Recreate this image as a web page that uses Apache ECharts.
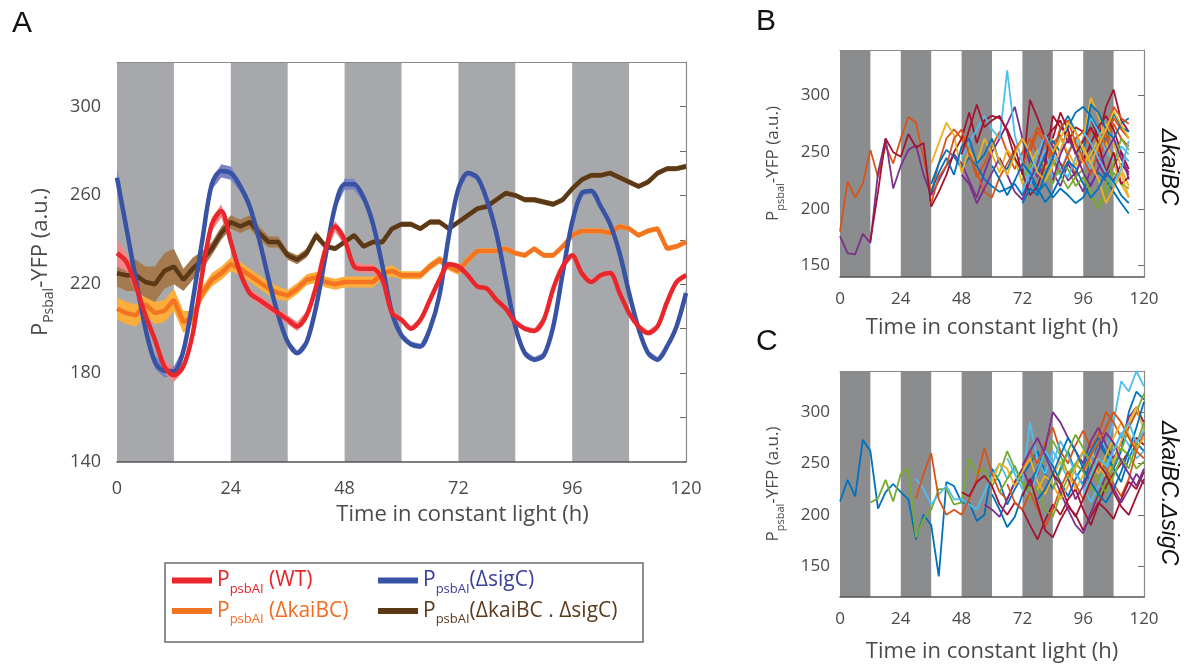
<!DOCTYPE html>
<html>
<head>
<meta charset="utf-8">
<script src="https://cdn.jsdelivr.net/npm/echarts@6/dist/echarts.min.js"></script>
<style>
html, body { margin: 0; padding: 0; background: #fff; }
#chart { width: 1185px; height: 668px; }
</style>
</head>
<body>
<div id="chart"></div>
<script>
// ---- panel A: population means (every 2 h) ----
var hoursA = [0,2,4,6,8,10,12,14,16,18,20,22,24,26,28,30,32,34,36,38,40,42,44,46,48,50,52,54,56,58,
    60,62,64,66,68,70,72,74,76,78,80,82,84,86,88,90,92,94,96,98,100,102,104,106,108,110,112,114,116,118,120];

var wtMean = [234,230,219,206,195,183,179,183,198,225,247,253,239,225,216,213,210,207,204,201,
    206,219,236,246,240,228,227,227,222,207,204,200,204,213,222,229,228,224,219,218,
    213,209,203,200,199,204,218,228,233,225,221,224,225,216,207,201,198,201,212,221,224];
var wtErr = [6,4,3,3,2,3,3,2,1.5,1.5,3,3,2,1.5,2,2,2,2,2,2,2,1.5,2.5,2.5,2.5,2,2,2,2,1.5,
    1.2,1.2,1.2,1.2,1.2,1.2,1.2,1.2,1.2,1.2,1.2,1.2,1.2,1.2,1.2,1.2,1.2,1.2,1.2,1.2,
    1.2,1.2,1.2,1.2,1.2,1.2,1.2,1.2,1.2,1.2,1.2];

var sigCMean = [268,245,222,200,185,181,181,190,213,240,265,271,270,264,255,240,222,206,194,189,
    194,210,233,255,265,265,259,247,228,207,197,193,192,200,215,242,263,270,268,258,
    243,222,201,189,186,188,201,225,248,261,262,255,247,234,216,200,189,186,192,201,216];
var sigCErr = [4,3,2,2,3,3,2,1.2,1.2,1.5,2.5,3,3,2.5,2,1.2,1.2,1.2,1.2,1.2,1.2,1.2,1.2,1.5,2.5,2.5,2,1.5,1.2,1.2,
    1.2,1.2,1.2,1.2,1.2,1.2,1.2,1.2,1.2,1.2,1.2,1.2,1.2,1.2,1.2,1.2,1.2,1.2,1.2,1.2,
    1.2,1.2,1.2,1.2,1.2,1.2,1.2,1.2,1.2,1.2,1.2];

var kaiMean = [209,207,206,211,207,208,213,203,205,216,222,225,229,227,224,221,218,216,215,218,
    222,223,221,220,221,221,221,221,225,226,224,224,224,228,231,228,226,231,235,235,
    235,236,234,233,236,233,233,237,242,244,244,244,243,246,245,242,244,245,236,237,239];
var kaiErr = [5,5,5,5,5,5,5,5,3,3,3,3,3,3,3,3,3,3,2.5,2.5,2.5,2.5,2.5,2.5,2.5,2.5,2.5,2.5,2.5,2.5,
    1.8,1.8,1.8,1.8,1.8,1.8,1.8,1.8,1.2,1.2,1.2,1.2,1.2,1.2,1.2,1.2,1.2,1.2,1.2,1.2,
    1.2,1.2,1.2,1.2,1.2,1.2,1.2,1.2,1.2,1.2,1.2];

var kaiSigMean = [225,224,224,221,220,226,228,222,227,231,236,243,248,246,248,243,239,239,233,231,
    234,242,237,236,239,242,237,239,239,245,247,247,245,248,248,245,248,251,254,255,
    258,261,260,258,258,257,256,258,263,267,269,269,270,268,266,264,266,270,272,272,273];
var kaiSigErr = [6,7,7,7,8,8,8,5,5,4,3,3,3,3,3,3,2.5,2.5,2,2,2,2,1.2,1.2,1.2,1.2,1.2,1.2,1.2,1.2,
    1.2,1.2,1.2,1.2,1.2,1.2,1.2,1.2,1.2,1.2,1.2,1.2,1.2,1.2,1.2,1.2,1.2,1.2,1.2,1.2,
    1.2,1.2,1.2,1.2,1.2,1.2,1.2,1.2,1.2,1.2,1.2];

var strainNames = ['WT', 'ΔsigC', 'ΔkaiBC', 'ΔkaiBC . ΔsigC'];
var legendSuffix = [' (WT)', '(ΔsigC)', ' (ΔkaiBC)', '(ΔkaiBC . ΔsigC)'];

// dark (subjective night) periods, hours
var darkPeriods = [[0, 12], [24, 36], [48, 60], [72, 84], [96, 108]];

var xTicks = [0, 24, 48, 72, 96, 120];
var yLabelsA = [140, 180, 220, 260, 300];
var yTicksA = [160, 180, 200, 220, 240, 260, 280, 300];
var yLabelsBC = [150, 200, 250, 300];

// ---- panels B and C: single-cell traces, every 3 h from start ----
var kaiStart = [0, 0, 12, 36, 36, 48, 72, 36, 36, 48, 48, 60, 72, 84, 72, 72, 84, 84, 96, 96, 60, 84];
var kaiColor = [1, 3, 6, 0, 2, 5, 4, 0, 1, 3, 6, 2, 5, 4, 0, 1, 6, 3, 2, 5, 0, 2];
var kaiTraces = [
    [180,224,210,222,252,228,256,240,262,281,276,245,214,240,262,270,262,250,228,240,255,268,250,235,250,262,248,235,258,265,245,230,252,270,262,255,275,262,255],
    [176,161,160,178,170,232,262,218,238,252,256,230,212,225,238,248,240,225,210,232,250,262,275,290,262,240,228,245,232,220,240,228,215,235,248,232,225,240,230],
    [172,215,262,250,246,266,254,258,202,215,230,250,262,285,258,278,282,280,270,255,230,296,280,262,270,278,258,272,268,280,262,290,305,278,268],
    [222,240,252,246,236,245,238,226,220,215,218,222,212,228,215,222,210,218,212,205,210,222,232,225,215,205,196],
    [240,258,276,265,232,252,240,262,248,232,252,244,222,238,252,236,244,262,250,238,262,298,282,258,240,222,210],
    [245,258,270,282,270,262,322,265,240,222,238,252,228,232,250,262,245,235,255,270,262,250,242],
    [225,238,245,230,222,240,235,220,228,215,200,212,232,222,218],
    [215,232,245,230,255,262,240,248,262,240,235,250,262,245,232,248,260,250,272,285,290,282,270,260,284,272,268],
    [205,228,238,262,270,248,232,215,210,228,240,252,262,250,268,258,245,232,248,262,268,255,242,262,280,270,262],
    [230,222,205,218,232,245,230,215,208,225,240,262,255,240,225,232,245,255,240,228,238,250,226],
    [248,270,292,272,278,282,268,245,232,212,220,240,282,272,265,250,242,258,272,282,270,250,235],
    [258,242,230,248,262,250,232,225,238,252,268,255,240,248,262,275,258,236,220],
    [215,232,248,265,250,235,228,245,262,280,268,250,242,255,248],
    [242,230,218,228,235,212,200,222,240,262,252],
    [205,218,212,230,245,270,282,268,250,292,285,270,262,275,280],
    [238,255,272,262,248,272,278,258,245,230,252,268,290,280,275],
    [262,285,270,248,260,272,258,232,250,222,228],
    [225,248,262,250,232,220,236,250,262,244,232],
    [255,240,226,205,218,232,210],
    [268,258,245,232,222,235,260],
    [238,226,212,225,240,232,218,206,214,228,242,236,222,210,218,232,224,212,205],
    [250,262,276,268,252,240,256,270,286,274,262]
];

var kaiSigStart = [0, 12, 30, 30, 48, 57, 60, 60, 63, 66, 66, 72, 72, 78, 78, 84, 84, 90, 96, 96];
var kaiSigColor = [0, 4, 5, 1, 6, 3, 2, 0, 4, 5, 1, 6, 3, 2, 0, 4, 6, 3, 1, 5];
var kaiSigTraces = [
    [213,234,218,273,262,206,222,230,222,215,176,200,190,140,232,228,212,212,194,200,245,232,210,225,238,250,262,240,225,245,262,240,230,252,270,258,245,262,300,320,312],
    [212,216,234,213,240,245,178,196,205,225,225,210,212,255,240,245,228,240,262,245,232,225,240,258,272,258,240,250,262,245,232,250,270,262,285,300,318],
    [235,225,210,220,228,215,215,210,205,222,238,250,235,245,232,290,252,240,262,250,235,248,260,252,275,265,290,330,320,340,325],
    [216,240,260,215,200,205,200,215,235,265,240,222,215,232,245,262,250,270,285,262,250,268,282,265,278,300,290,275,285,300,290],
    [222,218,232,238,228,210,200,212,205,190,176,195,210,200,215,225,205,190,210,228,240,250,262,275,268],
    [210,205,198,215,232,245,228,240,265,300,290,275,262,250,272,285,268,255,270,295,305,290],
    [232,250,245,228,242,255,232,220,238,252,240,225,238,262,250,235,252,272,290,305,282],
    [220,205,188,198,220,232,245,260,248,232,218,235,248,262,275,260,245,232,255,270,262],
    [222,235,248,230,215,228,205,198,220,236,250,242,228,215,232,248,265,258,245,252],
    [255,240,225,218,242,262,250,272,258,240,228,212,228,245,262,280,268,255,262],
    [230,212,205,222,205,188,205,226,242,230,215,232,252,245,230,218,235,262,280],
    [218,235,210,185,178,195,208,200,185,198,212,205,196,215,232,225,242],
    [248,262,275,258,240,222,205,190,182,202,220,238,226,212,225,240,230],
    [225,238,230,215,228,246,262,252,240,258,275,290,278,265,275],
    [215,225,240,258,275,262,245,232,220,212,225,242,262,285,310],
    [225,242,262,278,265,248,232,222,238,255,245,268,290],
    [240,230,210,198,215,235,250,240,222,208,200,218,235],
    [235,215,228,245,262,280,270,252,240,228,245],
    [242,258,270,285,300,290,275,262,255],
    [220,238,255,248,262,278,290,270,282]
];
var traceStep = 3;

// ---- styling ----
var FONT = "'Open Sans', sans-serif";
var TXT = '#4a4a4a';
var lineColors = ['#e8262b', '#3953a4', '#f47421', '#5c3916'];
var bandColors = ['#f3868a', '#7c83c3', '#fbae3c', '#a47a4e'];
var legendTextColors = ['#e52428', '#3b3f98', '#f26b22', '#5b3b1c'];
var matlabColors = ['#0072bd', '#d95319', '#edb120', '#7e2f8e', '#77ac30', '#4dbeee', '#a2142f'];

var chart = echarts.init(document.getElementById('chart'));

function nightSeries(gridIdx, color) {
    return {
        type: 'line', xAxisIndex: gridIdx * 2, yAxisIndex: gridIdx * 2,
        data: [], z: 0, silent: true,
        markArea: {
            silent: true,
            itemStyle: { color: color, opacity: 1 },
            data: darkPeriods.map(function (p) { return [{ xAxis: p[0] }, { xAxis: p[1] }]; })
        }
    };
}

var meanData = [wtMean, sigCMean, kaiMean, kaiSigMean];
var errData = [wtErr, sigCErr, kaiErr, kaiSigErr];
var smoothness = [0.3, 0.3, 0, 0];
var drawOrder = [2, 3, 1, 0];

var series = [nightSeries(0, '#a6a8ab'), nightSeries(1, '#8b8c8e'), nightSeries(2, '#8b8c8e')];

// mean +/- error band, drawn as one polygon through the axis scales
drawOrder.forEach(function (k) {
    var mean = meanData[k], err = errData[k];
    series.push({
        type: 'custom', xAxisIndex: 0, yAxisIndex: 0, silent: true, z: 2,
        data: hoursA.map(function (t, i) { return [t, mean[i] - err[i], mean[i] + err[i]]; }),
        encode: { x: 0, y: [1, 2] },
        renderItem: function (params, api) {
            if (params.dataIndex !== 0) return null;
            var upper = [], lower = [];
            for (var i = 0; i < hoursA.length; i++) {
                upper.push(api.coord([hoursA[i], mean[i] + err[i]]));
                lower.unshift(api.coord([hoursA[i], mean[i] - err[i]]));
            }
            return {
                type: 'polygon',
                shape: { points: upper.concat(lower), smooth: 0 },
                style: { fill: bandColors[k] }
            };
        }
    });
});

drawOrder.forEach(function (k) {
    series.push({
        name: strainNames[k], type: 'line', xAxisIndex: 0, yAxisIndex: 0,
        symbol: 'none', smooth: smoothness[k], z: 3,
        itemStyle: { color: lineColors[k] },
        lineStyle: { color: lineColors[k], width: 4.5 },
        data: hoursA.map(function (t, i) { return [t, meanData[k][i]]; })
    });
});

function addTraces(starts, traces, colorIdx, axisIdx) {
    traces.forEach(function (vals, j) {
        series.push({
            type: 'line', xAxisIndex: axisIdx, yAxisIndex: axisIdx, silent: true,
            symbol: 'none', z: 3,
            lineStyle: { color: matlabColors[colorIdx[j]], width: 1.8 },
            data: vals.map(function (v, i) { return [starts[j] + i * traceStep, v]; })
        });
    });
}
addTraces(kaiStart, kaiTraces, kaiColor, 2);
addTraces(kaiSigStart, kaiSigTraces, kaiSigColor, 4);

function bottomX(grid, gap, labelSize, margin, pad) {
    return {
        gridIndex: grid, type: 'value', min: 0, max: 120, interval: 24, z: 1,
        axisLine: { show: true, onZero: false, lineStyle: { color: '#555', width: 1.5 } },
        axisTick: { show: false }, splitLine: { show: false },
        axisLabel: { fontSize: labelSize, color: TXT, fontFamily: FONT, margin: margin, customValues: xTicks },
        name: 'Time in constant light (h)', nameLocation: 'middle', nameGap: gap,
        nameTextStyle: { fontSize: 22, color: TXT, fontFamily: FONT, padding: pad }
    };
}
function topX(grid) {
    return {
        gridIndex: grid, type: 'value', min: 0, max: 120, position: 'top', z: 1,
        axisLine: { show: true, onZero: false, lineStyle: { color: '#8a8a8a', width: 1.2 } },
        axisTick: { show: false }, axisLabel: { show: false }, splitLine: { show: false }
    };
}
function leftY(grid, min, max, labels, labelSize, margin, name, gap, big, small) {
    return {
        gridIndex: grid, type: 'value', min: min, max: max, z: 1,
        axisLine: { show: false }, axisTick: { show: false }, splitLine: { show: false },
        axisLabel: { fontSize: labelSize, color: TXT, fontFamily: FONT, margin: margin, customValues: labels },
        name: name, nameLocation: 'middle', nameGap: gap,
        nameTextStyle: {
            rich: {
                p: { fontSize: big, color: TXT, fontFamily: FONT, lineHeight: big + 8, verticalAlign: 'middle' },
                s: { fontSize: small, color: TXT, fontFamily: FONT, lineHeight: small, verticalAlign: 'bottom' }
            }
        }
    };
}
function rightY(grid, min, max, ticks) {
    return {
        gridIndex: grid, type: 'value', min: min, max: max, position: 'right', z: 1,
        axisLine: { show: true, onZero: false, lineStyle: { color: '#8a8a8a', width: 1.2 } },
        axisTick: { show: true, inside: true, length: 6, customValues: ticks, lineStyle: { color: '#666' } },
        axisLabel: { show: false }, splitLine: { show: false }
    };
}

function legendRich() {
    var rich = {};
    legendTextColors.forEach(function (c, i) {
        rich['p' + i] = { fontSize: 21, color: c, fontFamily: FONT, lineHeight: 30, verticalAlign: 'middle' };
        rich['s' + i] = { fontSize: 13, color: c, fontFamily: FONT, lineHeight: 13, verticalAlign: 'bottom' };
    });
    return rich;
}
function legendLabel(name) {
    var i = strainNames.indexOf(name);
    return '{p' + i + '|P}{s' + i + '|psbAI}{p' + i + '|' + legendSuffix[i] + '}';
}
function legendBlock(left, names) {
    return {
        orient: 'vertical', left: left, top: 570, padding: 0, itemGap: 5,
        itemWidth: 40, itemHeight: 6, icon: 'rect', selectedMode: false,
        data: names, formatter: legendLabel,
        textStyle: { rich: legendRich() }
    };
}

var option = {
    animation: false,
    backgroundColor: '#fff',
    grid: [
        { left: 117, top: 62, width: 569, height: 400 },
        { left: 840, top: 50, width: 304, height: 227 },
        { left: 840, top: 371, width: 304, height: 226 }
    ],
    xAxis: [
        bottomX(0, 42, 18, 18, [0, 0, 0, 122]), topX(0),
        bottomX(1, 40, 17, 14, 0), topX(1),
        bottomX(2, 44, 17, 14, 0), topX(2)
    ],
    yAxis: [
        leftY(0, 140, 320, yLabelsA, 18, 16, '{p|P}{s|Psbal}{p|-YFP (a.u.)}', 61, 22, 14),
        rightY(0, 140, 320, yTicksA),
        leftY(1, 140, 340, yLabelsBC, 17, 10, '{p|P}{s|psbal}{p|-YFP (a.u.)}', 54, 17, 11),
        rightY(1, 140, 340, yLabelsBC),
        leftY(2, 120, 340, yLabelsBC, 17, 10, '{p|P}{s|psbal}{p|-YFP (a.u.)}', 54, 17, 11),
        rightY(2, 120, 340, yLabelsBC)
    ],
    legend: [
        legendBlock(172, [strainNames[0], strainNames[2]]),
        legendBlock(378, [strainNames[1], strainNames[3]])
    ],
    graphic: [
        { type: 'rect', shape: { x: 165, y: 563, width: 478, height: 79 },
          style: { fill: 'none', stroke: '#6a6a6a', lineWidth: 1.5 } },
        { type: 'text', x: 12, y: 24, style: { text: 'A', fontSize: 30, fontFamily: "'Liberation Sans', Arial", fill: '#111', verticalAlign: 'middle' } },
        { type: 'text', x: 756, y: 22, style: { text: 'B', fontSize: 30, fontFamily: "'Liberation Sans', Arial", fill: '#111', verticalAlign: 'middle' } },
        { type: 'text', x: 756, y: 342, style: { text: 'C', fontSize: 30, fontFamily: "'Liberation Sans', Arial", fill: '#111', verticalAlign: 'middle' } },
        { type: 'text', x: 1168, y: 167, rotation: -Math.PI / 2,
          style: { text: 'ΔkaiBC', fontSize: 23, fontStyle: 'italic', fontFamily: "'Liberation Sans', Arial", fill: '#111', align: 'center', verticalAlign: 'middle' } },
        { type: 'text', x: 1168, y: 493, rotation: -Math.PI / 2,
          style: { text: 'ΔkaiBC.ΔsigC', fontSize: 23, fontStyle: 'italic', fontFamily: "'Liberation Sans', Arial", fill: '#111', align: 'center', verticalAlign: 'middle' } }
    ],
    series: series
};

chart.setOption(option);
</script>
</body>
</html>
